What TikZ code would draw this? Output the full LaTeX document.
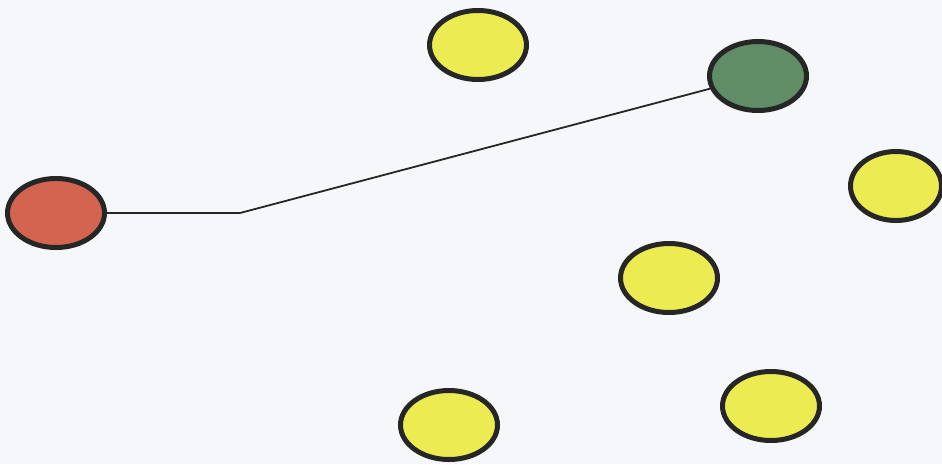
\documentclass[tikz,border=0pt]{standalone}
\usetikzlibrary{shapes.geometric}
\definecolor{bg}{RGB}{246,247,250}
\definecolor{redf}{RGB}{210,100,80}
\definecolor{greenf}{RGB}{96,140,102}
\definecolor{yellowf}{RGB}{236,236,82}
\definecolor{edge}{RGB}{38,38,38}
\tikzset{
  blob/.style={ellipse, draw=edge, line width=5pt, minimum width=97pt, minimum height=69pt, inner sep=0pt},
  link/.style={draw=edge, line width=1.8pt}
}
\begin{document}
\begin{tikzpicture}[x=1pt,y=-1pt]
\fill[bg] (0,0) rectangle (942,464);
\useasboundingbox (0,0) rectangle (942,464);
\node[blob, fill=redf] (r) at (56,213) {};
\node[blob, fill=greenf] (g) at (758,76) {};
\node[blob, fill=yellowf] (y1) at (478,45) {};
\node[blob, fill=yellowf, minimum width=91pt] (y2) at (896,186) {};
\node[blob, fill=yellowf] (y3) at (669,278) {};
\node[blob, fill=yellowf] (y4) at (449,425) {};
\node[blob, fill=yellowf] (y5) at (771,406) {};
\coordinate (k) at (240,213);
\draw[link] (r.east) -- (k) -- (g);
\end{tikzpicture}
\end{document}
